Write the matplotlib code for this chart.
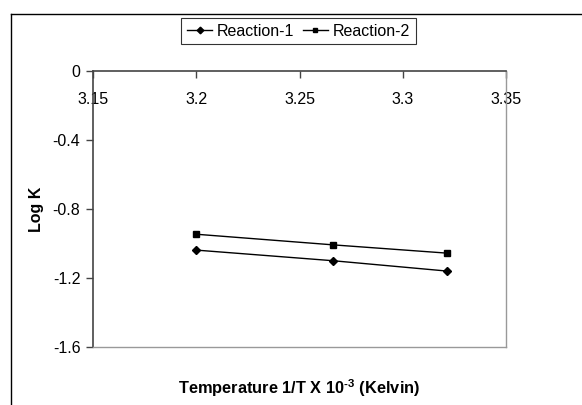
import matplotlib
matplotlib.use("Agg")
import matplotlib.pyplot as plt
from matplotlib.lines import Line2D

plt.rcParams['font.family'] = ['Liberation Sans', 'DejaVu Sans']
plt.rcParams['mathtext.fontset'] = 'custom'
plt.rcParams['mathtext.rm'] = 'Liberation Sans:bold'
plt.rcParams['mathtext.bf'] = 'Liberation Sans:bold'
plt.rcParams['mathtext.default'] = 'rm'

x_vals = [3.1997, 3.2664, 3.3216]
reaction1 = [-1.038, -1.100, -1.160]
reaction2 = [-0.946, -1.008, -1.056]
series_names = ["Reaction-1", "Reaction-2"]
x_ticks = [3.15, 3.2, 3.25, 3.3, 3.35]
x_tick_labels = ["3.15", "3.2", "3.25", "3.3", "3.35"]
y_ticks = [0, -0.4, -0.8, -1.2, -1.6]
y_tick_labels = ["0", "-0.4", "-0.8", "-1.2", "-1.6"]

dpi = 100
fig = plt.figure(figsize=(5.82, 4.05), dpi=dpi)
ax = fig.add_axes([93/582, 1-347/405, (506-93)/582, (347-71)/405])

ax.plot(x_vals, reaction1, color='black', lw=1, marker='D', markersize=4.5,
        label=series_names[0])
ax.plot(x_vals, reaction2, color='black', lw=1, marker='s', markersize=4.5,
        label=series_names[1])

ax.set_xlim(3.15, 3.35)
ax.set_ylim(-1.6, 0)
ax.set_xticks(x_ticks)
ax.set_xticklabels(x_tick_labels)
ax.set_yticks(y_ticks)
ax.set_yticklabels(y_tick_labels)

ax.xaxis.set_ticks_position('top')
ax.tick_params(axis='x', which='both', direction='in', length=5, width=1,
               color='#444444', labeltop=True, labelbottom=False,
               pad=-26, labelsize=11.5)
ax.tick_params(axis='y', direction='out', length=5, width=1, color='#444444',
               labelsize=11.5, pad=4)

for s in ['top', 'left']:
    ax.spines[s].set_color('#444444')
    ax.spines[s].set_linewidth(1.2)
for s in ['bottom', 'right']:
    ax.spines[s].set_color('#999999')
    ax.spines[s].set_linewidth(1.0)

ax.xaxis.set_label_position('bottom')
ax.set_xlabel("Temperature 1/T X 10$^{\\text{-3}}$ (Kelvin)", fontsize=11.8,
              fontweight='bold', labelpad=22)
ax.set_ylabel("Log K", fontsize=11.5, fontweight='bold', labelpad=6)

leg = fig.legend(loc='center', bbox_to_anchor=(298.5/582, 1-31/405), ncol=2,
                 fontsize=11.5, frameon=True, fancybox=False, handlelength=1.6,
                 columnspacing=0.5, handletextpad=0.3, borderpad=0.35,
                 markerscale=0.75)
leg.get_frame().set_edgecolor('black')
leg.get_frame().set_linewidth(0.8)

# outer chart border
fx = 11/582
fy = 1 - 14/405
fig.add_artist(Line2D([fx, fx], [0, fy], transform=fig.transFigure, color='black', lw=1))
fig.add_artist(Line2D([fx, 1], [fy, fy], transform=fig.transFigure, color='black', lw=1))

fig.savefig("out.png", dpi=dpi)
